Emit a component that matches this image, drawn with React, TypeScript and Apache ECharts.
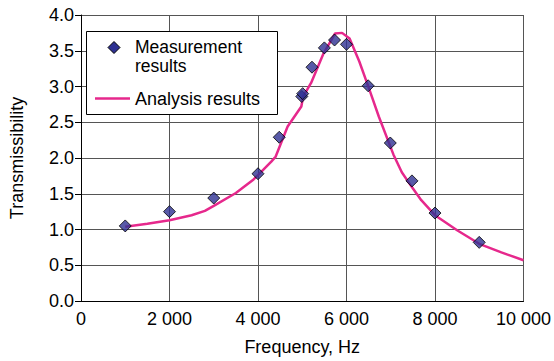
import React, { useEffect, useRef } from "react";
import * as echarts from "echarts";

const measFreq = [1000, 2000, 3000, 4000, 4480, 4990, 5010, 5220, 5500, 5730, 6000, 6490, 6990, 7480, 8000, 9000];
const measValue = [1.05, 1.25, 1.44, 1.78, 2.29, 2.86, 2.9, 3.27, 3.54, 3.65, 3.59, 3.01, 2.21, 1.68, 1.23, 0.82];

const anaFreq = [1000, 1500, 2000, 2500, 2800, 3000, 3500, 3900, 4000, 4300, 4400, 4670, 4980, 5020, 5200, 5480, 5740, 5900, 6070, 6290, 6510, 6730, 7060, 7250, 7470, 7690, 8000, 8500, 9000, 9500, 10000];
const anaValue = [1.04, 1.08, 1.13, 1.2, 1.26, 1.33, 1.51, 1.7, 1.76, 1.95, 2.02, 2.44, 2.72, 2.86, 3.05, 3.46, 3.74, 3.75, 3.67, 3.35, 2.97, 2.58, 2.05, 1.8, 1.6, 1.41, 1.2, 0.99, 0.8, 0.68, 0.57];

const seriesNames = ["Measurement\nresults", "Analysis results"];
const xTitle = "Frequency, Hz";
const yTitle = "Transmissibility";

const FONT = 'Arial, "Liberation Sans", Helvetica, sans-serif';
const PINK = "#e6288c";
const NAVY = "#2e3192";
const GRID = "#555";

export default function App() {
  const ref = useRef<HTMLDivElement>(null);
  useEffect(() => {
    if (!ref.current) return;
    const chart = echarts.init(ref.current, null, { renderer: "svg" });
    chart.setOption({
      animation: false,
      backgroundColor: "#ffffff",
      textStyle: { fontFamily: FONT },
      grid: { left: 75, right: 26, top: 15, bottom: 60 },
      xAxis: {
        type: "value",
        min: 0,
        max: 10000,
        interval: 2000,
        name: xTitle,
        nameLocation: "middle",
        nameGap: 37,
        nameTextStyle: { color: "#000", fontSize: 18, fontFamily: FONT },
        axisLine: { show: true, lineStyle: { color: "#000", width: 1 } },
        axisTick: { show: false },
        axisLabel: {
          color: "#000",
          fontSize: 18,
          fontFamily: FONT,
          margin: 9,
          formatter: (v: number) => String(v).replace(/\B(?=(\d{3})+(?!\d))/g, " "),
        },
        splitLine: { show: true, lineStyle: { color: GRID, width: 1 } },
      },
      yAxis: {
        type: "value",
        min: 0,
        max: 4,
        interval: 0.5,
        name: yTitle,
        nameLocation: "middle",
        nameGap: 55,
        nameTextStyle: { color: "#000", fontSize: 18, fontFamily: FONT },
        axisLine: { show: true, lineStyle: { color: "#000", width: 1 } },
        axisTick: { show: true, inside: false, length: 6, lineStyle: { color: "#000" } },
        axisLabel: {
          color: "#000",
          fontSize: 18,
          fontFamily: FONT,
          margin: 7,
          formatter: (v: number) => v.toFixed(1),
        },
        splitLine: { show: true, lineStyle: { color: GRID, width: 1 } },
      },
      series: [
        {
          name: seriesNames[1],
          type: "line",
          data: anaFreq.map((f, i) => [f, anaValue[i]]),
          symbol: "none",
          smooth: false,
          lineStyle: { color: PINK, width: 2.5 },
          z: 2,
        },
        {
          name: seriesNames[0],
          type: "scatter",
          data: measFreq.map((f, i) => [f, measValue[i]]),
          symbol: "diamond",
          symbolSize: 12,
          itemStyle: { color: NAVY, borderColor: "#000", borderWidth: 1 },
          z: 3,
        },
      ],
      graphic: [
        {
          type: "rect",
          shape: { x: 86.5, y: 31.5, width: 191, height: 83 },
          style: { fill: "#fff", stroke: "#000", lineWidth: 1 },
          z: 10,
        },
        {
          type: "polygon",
          shape: { points: [[114, 41.5], [120, 47.5], [114, 53.5], [108, 47.5]] },
          style: { fill: NAVY, stroke: "#000", lineWidth: 1 },
          z: 11,
        },
        {
          type: "text",
          x: 135,
          y: 36.7,
          style: {
            text: seriesNames[0],
            fill: "#000",
            font: `17.5px ${FONT}`,
            lineHeight: 19.6,
            verticalAlign: "top",
            align: "left",
          },
          z: 11,
        },
        {
          type: "line",
          shape: { x1: 95, y1: 98.5, x2: 130, y2: 98.5 },
          style: { stroke: PINK, lineWidth: 2.5 },
          z: 11,
        },
        {
          type: "text",
          x: 135,
          y: 99,
          style: { text: seriesNames[1], fill: "#000", font: `18px ${FONT}`, verticalAlign: "middle", align: "left" },
          z: 11,
        },
      ],
    });
    return () => chart.dispose();
  }, []);
  return (
    <div
      ref={ref}
      style={{ position: "absolute", left: 0, top: 0, width: 554, height: 361 }}
    />
  );
}
